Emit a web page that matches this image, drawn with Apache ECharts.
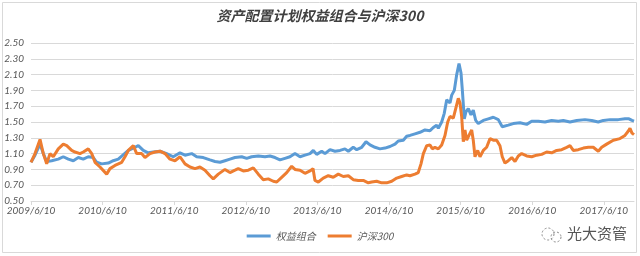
<!DOCTYPE html>
<html>
<head>
<meta charset="UTF-8">
<title>资产配置计划权益组合与沪深300</title>
<script src="https://cdn.jsdelivr.net/npm/echarts@6/dist/echarts.min.js"></script>
<style>
	html, body { margin: 0; padding: 0; background: #fff; }
	#chart { width: 640px; height: 256px; }
</style>
</head>
<body>
<div id="chart"></div>
<script>
// x = years after 2009/6/10
var blueX = [0, 0.056, 0.126, 0.172, 0.219, 0.289, 0.381, 0.451, 0.521, 0.591, 0.661, 0.730, 0.800, 0.870, 0.918, 0.987,
	1.080, 1.149, 1.219, 1.243, 1.359, 1.429, 1.499, 1.568, 1.638, 1.708, 1.802, 1.895, 1.987,
	2.081, 2.151, 2.244, 2.314, 2.406, 2.500, 2.570, 2.640, 2.709, 2.779, 2.849, 2.943,
	3.013, 3.082, 3.175, 3.268, 3.338, 3.408, 3.478, 3.547, 3.617, 3.687, 3.757, 3.827, 3.897, 3.943, 3.990,
	4.060, 4.106, 4.176, 4.246, 4.316, 4.385, 4.432, 4.501, 4.549, 4.619, 4.679, 4.735, 4.804, 4.874, 4.944,
	5.014, 5.084, 5.130, 5.200, 5.247, 5.293, 5.363, 5.433, 5.503, 5.573, 5.619, 5.666, 5.689, 5.736, 5.772, 5.806, 5.852, 5.876, 5.912, 5.946, 5.978,
	6.006, 6.024, 6.052, 6.075, 6.108, 6.145, 6.177, 6.211, 6.247, 6.317, 6.387, 6.457, 6.527, 6.582, 6.666, 6.736, 6.830, 6.923, 6.993,
	7.085, 7.179, 7.272, 7.365, 7.434, 7.528, 7.622, 7.737, 7.831, 7.923, 7.993,
	8.087, 8.202, 8.296, 8.352, 8.394, 8.422];
var blueY = [0.99, 1.08, 1.22, 1.10, 1.00, 1.01, 1.03, 1.06, 1.03, 1.01, 1.05, 1.03, 1.06, 1.05, 0.99, 0.97,
	0.98, 1.01, 1.03, 1.02, 1.14, 1.17, 1.20, 1.14, 1.11, 1.12, 1.13, 1.10, 1.06,
	1.11, 1.08, 1.10, 1.06, 1.05, 1.02, 1.00, 0.99, 1.01, 1.03, 1.05, 1.06,
	1.04, 1.06, 1.07, 1.06, 1.07, 1.05, 1.02, 1.04, 1.06, 1.10, 1.06, 1.08, 1.10, 1.14, 1.09,
	1.13, 1.10, 1.15, 1.13, 1.14, 1.16, 1.13, 1.18, 1.15, 1.18, 1.25, 1.21, 1.18, 1.16, 1.17,
	1.19, 1.22, 1.26, 1.27, 1.32, 1.33, 1.35, 1.37, 1.40, 1.39, 1.43, 1.46, 1.42, 1.50, 1.61, 1.78, 1.74, 1.84, 1.90, 2.10, 2.24,
	2.12, 1.91, 1.54, 1.63, 1.67, 1.59, 1.65, 1.52, 1.48, 1.52, 1.54, 1.56, 1.53, 1.44, 1.46, 1.48, 1.49, 1.47, 1.51,
	1.51, 1.50, 1.52, 1.51, 1.52, 1.50, 1.52, 1.53, 1.52, 1.50, 1.52,
	1.53, 1.53, 1.54, 1.54, 1.52, 1.51];

var orangeX = [0, 0.056, 0.126, 0.172, 0.219, 0.265, 0.311, 0.381, 0.451, 0.499, 0.568, 0.615, 0.684, 0.730, 0.800, 0.848, 0.894, 0.964,
	1.057, 1.103, 1.173, 1.267, 1.313, 1.359, 1.429, 1.476, 1.546, 1.592, 1.662, 1.732, 1.802, 1.872, 1.941,
	2.011, 2.081, 2.151, 2.221, 2.291, 2.360, 2.430, 2.500, 2.546, 2.616, 2.640, 2.709, 2.779, 2.849, 2.895, 2.965,
	3.035, 3.105, 3.175, 3.244, 3.314, 3.384, 3.432, 3.501, 3.571, 3.641, 3.687, 3.757, 3.827, 3.897, 3.939, 3.966,
	4.013, 4.082, 4.152, 4.222, 4.292, 4.362, 4.432, 4.501, 4.571, 4.641, 4.711, 4.758, 4.828, 4.898, 4.968,
	5.038, 5.108, 5.177, 5.247, 5.293, 5.363, 5.409, 5.447, 5.480, 5.527, 5.573, 5.605, 5.642, 5.689, 5.736, 5.782, 5.820, 5.852, 5.898, 5.932, 5.968, 5.992,
	6.015, 6.038, 6.061, 6.085, 6.117, 6.155, 6.177, 6.201, 6.239, 6.271, 6.317, 6.364, 6.411, 6.457, 6.504, 6.550, 6.582, 6.620, 6.666, 6.714, 6.760, 6.806, 6.853, 6.923, 6.993,
	7.063, 7.133, 7.202, 7.272, 7.342, 7.412, 7.482, 7.528, 7.574, 7.644, 7.714, 7.784, 7.853, 7.923, 7.971,
	8.040, 8.133, 8.226, 8.296, 8.338, 8.366, 8.394, 8.422];
var orangeY = [0.99, 1.10, 1.28, 1.10, 0.97, 1.10, 1.06, 1.16, 1.22, 1.20, 1.14, 1.12, 1.10, 1.12, 1.16, 1.10, 0.99, 0.93,
	0.84, 0.91, 0.95, 0.99, 1.06, 1.14, 1.20, 1.10, 1.10, 1.05, 1.10, 1.12, 1.13, 1.10, 1.03,
	1.01, 1.06, 0.97, 0.93, 0.91, 0.93, 0.89, 0.82, 0.78, 0.84, 0.86, 0.90, 0.86, 0.89, 0.91, 0.88,
	0.89, 0.92, 0.84, 0.77, 0.78, 0.75, 0.74, 0.80, 0.86, 0.94, 0.90, 0.89, 0.85, 0.88, 0.91, 0.76,
	0.74, 0.79, 0.82, 0.80, 0.84, 0.81, 0.82, 0.77, 0.76, 0.76, 0.73, 0.74, 0.75, 0.73, 0.73,
	0.75, 0.79, 0.81, 0.83, 0.82, 0.84, 0.86, 0.97, 1.10, 1.20, 1.21, 1.16, 1.18, 1.16, 1.21, 1.33, 1.50, 1.57, 1.55, 1.67, 1.80, 1.74,
	1.57, 1.25, 1.40, 1.27, 1.33, 1.40, 1.27, 1.06, 1.14, 1.06, 1.14, 1.18, 1.29, 1.27, 1.27, 1.20, 1.06, 0.98, 1.01, 1.05, 1.00, 1.07, 1.10, 1.07, 1.06,
	1.08, 1.09, 1.12, 1.11, 1.14, 1.15, 1.18, 1.20, 1.14, 1.15, 1.17, 1.18, 1.18, 1.13, 1.18,
	1.22, 1.27, 1.29, 1.33, 1.38, 1.42, 1.36, 1.34];

var yTicks = [0.5, 2.5, 0.2];   // min, max, step
var seriesNames = ['权益组合', '沪深300'];

function pairs(xs, ys) {
	var out = [];
	for (var i = 0; i < xs.length; i++) out.push([xs[i], ys[i]]);
	return out;
}

var myChart = echarts.init(document.getElementById('chart'));
var option = {
	backgroundColor: '#fff',
	animation: false,
	color: ['#5B9BD5', '#ED7D31'],
	title: {
		text: '资产配置计划权益组合与沪深300',
		left: 'center',
		top: 4,
		textStyle: {
			fontFamily: 'Noto Sans CJK SC',
			fontSize: 14,
			fontWeight: 'bold',
			fontStyle: 'italic',
			color: '#404040'
		}
	},
	legend: {
		bottom: 10,
		left: 'center',
		icon: 'rect',
		itemWidth: 24,
		itemHeight: 3,
		itemGap: 12,
		data: seriesNames,
		textStyle: {
			fontFamily: 'Noto Sans CJK SC',
			fontStyle: 'italic',
			fontSize: 10,
			color: '#595959'
		}
	},
	grid: {
		left: 31,
		right: 6,
		top: 43,
		bottom: 55
	},
	xAxis: {
		type: 'value',
		min: 0,
		max: 8.422,
		interval: 1,
		splitLine: { show: false },
		axisLine: { lineStyle: { color: '#d9d9d9' } },
		axisTick: { show: true, length: 4, inside: false, lineStyle: { color: '#d9d9d9' } },
		axisLabel: {
			showMaxLabel: false,
			margin: 5,
			fontFamily: 'Lato',
			fontStyle: 'italic',
			fontSize: 10,
			color: '#595959',
			formatter: function(v) {
				if (Math.abs(v - Math.round(v)) > 1e-6) return '';
				return (2009 + Math.round(v)) + '/6/10';
			}
		}
	},
	yAxis: {
		type: 'value',
		min: yTicks[0],
		max: yTicks[1],
		interval: yTicks[2],
		axisLine: { show: false },
		axisTick: { show: false },
		splitLine: { lineStyle: { color: '#d9d9d9' } },
		axisLabel: {
			margin: 7,
			fontFamily: 'Lato',
			fontStyle: 'italic',
			fontSize: 10,
			color: '#595959',
			formatter: function(v) { return v.toFixed(2); }
		}
	},
	series: [{
		name: seriesNames[0],
		type: 'line',
		showSymbol: false,
		lineStyle: { width: 3 },
		data: pairs(blueX, blueY)
	}, {
		name: seriesNames[1],
		type: 'line',
		showSymbol: false,
		lineStyle: { width: 3 },
		data: pairs(orangeX, orangeY)
	}],
	graphic: [{
		type: 'rect',
		shape: { x: 2.5, y: 2.5, width: 634, height: 250 },
		style: { fill: 'none', stroke: '#d9d9d9', lineWidth: 1 },
		silent: true
	}, {
		type: 'circle',
		shape: { cx: 548, cy: 234, r: 6 },
		style: { fill: 'none', stroke: '#888', lineWidth: 1, lineDash: [2, 2] },
		silent: true
	}, {
		type: 'circle',
		shape: { cx: 556, cy: 237, r: 5 },
		style: { fill: 'none', stroke: '#888', lineWidth: 1, lineDash: [2, 2] },
		silent: true
	}, {
		type: 'text',
		left: 567,
		top: 226,
		style: {
			text: '光大资管',
			fontFamily: 'Noto Sans CJK SC',
			fontSize: 15,
			fill: '#555'
		},
		silent: true
	}]
};
myChart.setOption(option);
</script>
</body>
</html>
